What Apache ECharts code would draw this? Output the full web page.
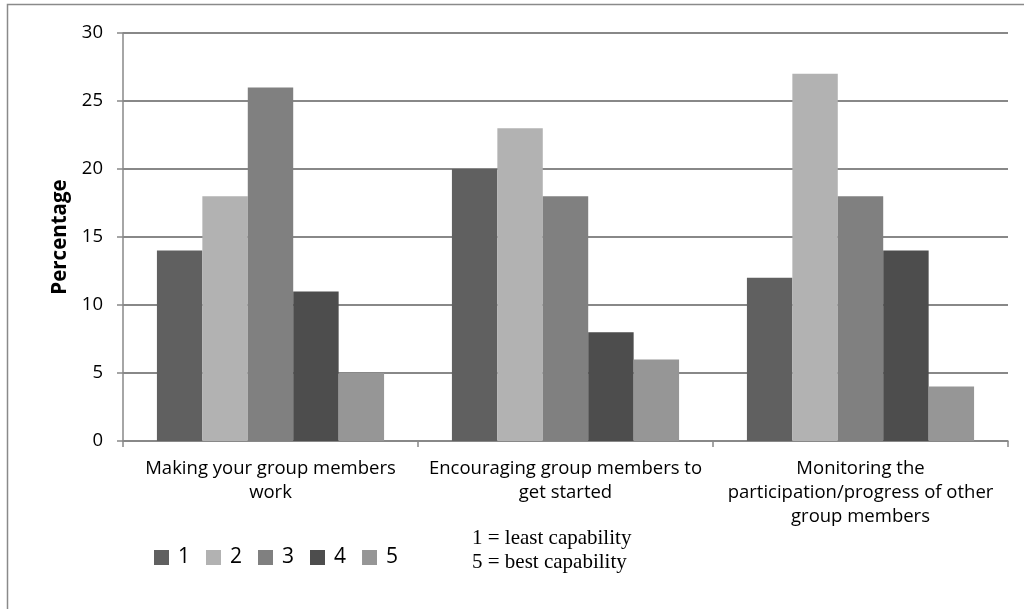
<!DOCTYPE html>
<html>
<head>
<meta charset="utf-8">
<script src="https://cdn.jsdelivr.net/npm/echarts@6/dist/echarts.min.js"></script>
<style>
  html, body { margin: 0; padding: 0; background: #fff; }
  #chart { width: 1024px; height: 609px; }
</style>
</head>
<body>
<div id="chart"></div>
<script>
// Tasks rated for self-assessed capability (percentage of respondents per rating)
const categories = [
  'Making your group members\nwork',
  'Encouraging group members to\nget started',
  'Monitoring the\nparticipation/progress of other\ngroup members'
];
const ratingNames = ['1', '2', '3', '4', '5'];
const rating1 = [14, 20, 12];
const rating2 = [18, 23, 27];
const rating3 = [26, 18, 18];
const rating4 = [11, 8, 14];
const rating5 = [5, 6, 4];
const yTicks = [0, 5, 10, 15, 20, 25, 30];

const ratingValues = [rating1, rating2, rating3, rating4, rating5];
const colors = ['#606060', '#b2b2b2', '#808080', '#4d4d4d', '#969696'];
const uiFont = '"Open Sans", "DejaVu Sans", sans-serif';

const chart = echarts.init(document.getElementById('chart'), null, { renderer: 'canvas' });

chart.setOption({
  animation: false,
  backgroundColor: '#ffffff',
  color: colors,
  grid: { left: 123, right: 16, top: 33, bottom: 168, containLabel: false },
  legend: {
    data: ratingNames,
    left: 154,
    top: 547,
    padding: 0,
    itemWidth: 15,
    itemHeight: 15,
    itemGap: 16,
    icon: 'rect',
    textStyle: { fontFamily: uiFont, fontSize: 21, color: '#000', padding: [0, 0, 0, 4] }
  },
  xAxis: {
    type: 'category',
    data: categories,
    axisLine: { lineStyle: { color: '#888888', width: 1.5 } },
    axisTick: { show: true, length: 6, lineStyle: { color: '#888888', width: 1.5 } },
    axisLabel: {
      color: '#000',
      fontFamily: uiFont,
      fontSize: 18.5,
      lineHeight: 24,
      margin: 16,
      interval: 0
    }
  },
  yAxis: {
    type: 'value',
    min: yTicks[0],
    max: yTicks[yTicks.length - 1],
    interval: 5,
    name: 'Percentage',
    nameLocation: 'middle',
    nameGap: 50,
    nameRotate: 90,
    nameTextStyle: { fontFamily: uiFont, fontSize: 20.5, fontWeight: 'bold', color: '#000' },
    axisLine: { show: true, lineStyle: { color: '#888888', width: 1.5 } },
    axisTick: { show: true, length: 6, lineStyle: { color: '#888888', width: 1.5 } },
    axisLabel: { color: '#000', fontFamily: uiFont, fontSize: 18.5, margin: 20 },
    splitLine: { show: true, lineStyle: { color: '#888888', width: 2 } }
  },
  series: ratingNames.map((name, i) => ({
    name: name,
    type: 'bar',
    data: ratingValues[i],
    barGap: '0%',
    barCategoryGap: '23%',
    itemStyle: { color: colors[i] }
  })),
  graphic: [
    {
      // outer frame: left and top edges
      type: 'polyline',
      shape: { points: [[7.5, 609], [7.5, 4.5], [1024, 4.5]] },
      style: { stroke: '#8a8a8a', lineWidth: 1.5, fill: null },
      silent: true
    },
    {
      type: 'text',
      left: 472,
      top: 526,
      style: {
        text: '1 = least capability\n5 = best capability',
        fontFamily: '"Liberation Serif", "Times New Roman", serif',
        fontSize: 21,
        lineHeight: 24,
        fill: '#000'
      }
    }
  ]
});
</script>
</body>
</html>
